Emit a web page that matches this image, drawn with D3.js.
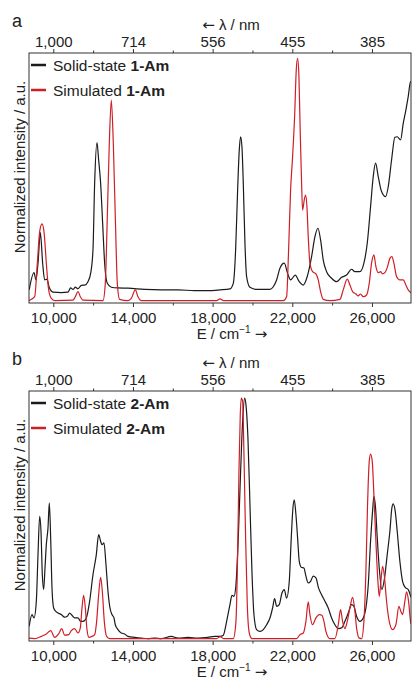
<!DOCTYPE html>
<html lang="en">
<head>
<meta charset="utf-8">
<script src="https://cdn.jsdelivr.net/npm/d3@7"></script>
<style>
  body { margin: 0; background: #fff; }
  svg { display: block; font-family: "Liberation Sans", Arial, sans-serif; }
</style>
</head>
<body>
<script>
// tick positions in cm-1 and the matching wavelength labels (nm)
var majorE = [10000, 14000, 18000, 22000, 26000];
var minorE = [12000, 16000, 20000, 24000];
var lambdaLabels = ["1,000", "714", "556", "455", "385"];

// spectra: [E / cm-1, normalized intensity]
var solid1Am = [[8790,0.044],[9031,0.115],[9132,0.085],[9232,0.154],[9349,0.280],[9466,0.154],[9567,0.085],
  [9684,0.088],[9784,0.057],[9985,0.035],[10403,0.033],[10738,0.035],[10871,0.052],[10989,0.046],[11106,0.055],
  [11240,0.049],[11407,0.063],[11574,0.064],[11741,0.078],[11875,0.112],[11992,0.208],[12076,0.483],[12193,0.651],
  [12277,0.579],[12377,0.483],[12478,0.318],[12578,0.154],[12712,0.071],[12913,0.055],[13247,0.052],[13749,0.051],
  [14586,0.046],[15422,0.044],[16259,0.044],[17095,0.041],[17764,0.041],[18368,0.044],[18870,0.048],[19037,0.071],
  [19154,0.208],[19255,0.456],[19338,0.621],[19405,0.675],[19472,0.634],[19539,0.483],[19623,0.236],[19706,0.099],
  [19874,0.055],[20208,0.046],[20878,0.046],[21045,0.057],[21212,0.085],[21379,0.133],[21597,0.154],[21764,0.112],
  [21915,0.085],[22149,0.105],[22350,0.078],[22551,0.064],[22751,0.099],[22969,0.181],[23136,0.263],[23287,0.298],
  [23420,0.250],[23554,0.167],[23722,0.119],[23973,0.092],[24224,0.078],[24474,0.096],[24725,0.105],[24976,0.129],
  [25144,0.119],[25395,0.119],[25595,0.154],[25763,0.236],[25930,0.387],[26064,0.511],[26181,0.566],[26315,0.511],
  [26482,0.449],[26683,0.428],[26817,0.469],[26984,0.579],[27151,0.673],[27268,0.675],[27436,0.662],[27570,0.730],
  [27703,0.785],[27820,0.840],[27937,0.902],[27960,0.902]];

var sim1Am = [[8780,0],[9065,0.016],[9198,0.154],[9316,0.284],[9433,0.316],[9533,0.284],[9650,0.154],[9767,0.044],
  [9901,0.009],[10068,0],[10989,0.002],[11106,0.016],[11240,0.037],[11357,0.016],[11490,0.002],[12494,0],
  [12611,0.071],[12712,0.346],[12812,0.648],[12913,0.826],[13013,0.648],[13113,0.346],[13214,0.071],[13331,0.005],
  [13749,0],[13916,0.009],[14117,0.044],[14251,0.016],[14418,0],[18200,0],[18370,0.007],[18550,0],[21547,0],
  [21714,0.016],[21814,0.208],[21915,0.456],[22015,0.593],[22116,0.758],[22199,0.950],[22266,0.998],[22333,0.923],
  [22400,0.689],[22467,0.483],[22517,0.373],[22601,0.415],[22668,0.435],[22735,0.387],[22801,0.263],[22885,0.154],
  [23019,0.119],[23186,0.110],[23303,0.085],[23420,0.037],[23554,0.005],[23889,0],[24391,0.005],[24558,0.044],
  [24759,0.088],[24893,0.064],[25027,0.037],[25194,0.027],[25311,0.019],[25428,0.027],[25562,0.016],[25729,0.023],
  [25863,0.071],[25980,0.154],[26097,0.188],[26198,0.140],[26315,0.115],[26432,0.119],[26532,0.110],[26649,0.115],
  [26783,0.140],[26900,0.174],[27000,0.181],[27101,0.154],[27235,0.099],[27402,0.085],[27570,0.085],[27703,0.064],
  [27820,0.044],[27960,0.032]];

var solid2Am = [[8790,0.051],[8931,0.099],[9031,0.085],[9148,0.154],[9232,0.346],[9316,0.504],[9382,0.442],[9449,0.263],
  [9516,0.202],[9583,0.291],[9650,0.387],[9734,0.456],[9801,0.559],[9868,0.415],[9935,0.208],[10018,0.126],
  [10152,0.110],[10403,0.099],[10570,0.088],[10704,0.092],[10821,0.105],[10938,0.096],[11072,0.085],[11240,0.085],
  [11373,0.071],[11490,0.071],[11658,0.085],[11825,0.154],[11992,0.263],[12160,0.346],[12277,0.428],[12377,0.401],
  [12444,0.387],[12544,0.394],[12645,0.305],[12745,0.195],[12846,0.126],[12946,0.099],[13046,0.085],[13113,0.057],
  [13247,0.037],[13414,0.023],[13582,0.019],[13749,0.009],[14084,0.005],[14418,0.002],[14753,0],[15087,0.002],
  [15422,0],[15924,0.009],[16259,0.002],[16760,0.005],[17262,0.002],[17764,0.005],[18099,0.009],[18368,0.009],
  [18535,0.014],[18703,0.071],[18870,0.140],[18970,0.178],[19071,0.174],[19171,0.222],[19288,0.415],[19405,0.689],
  [19506,0.895],[19606,0.991],[19673,0.964],[19773,0.826],[19874,0.552],[19974,0.277],[20074,0.099],[20208,0.037],
  [20376,0.030],[20543,0.037],[20710,0.057],[20878,0.085],[21011,0.126],[21112,0.165],[21212,0.133],[21346,0.140],
  [21480,0.188],[21597,0.202],[21714,0.167],[21848,0.236],[21948,0.415],[22032,0.538],[22099,0.572],[22182,0.511],
  [22266,0.415],[22350,0.318],[22450,0.294],[22584,0.291],[22684,0.257],[22801,0.229],[22919,0.236],[23052,0.257],
  [23186,0.250],[23320,0.208],[23471,0.181],[23638,0.154],[23805,0.126],[23973,0.085],[24140,0.057],[24307,0.041],
  [24474,0.044],[24642,0.071],[24809,0.105],[24976,0.140],[25093,0.133],[25227,0.092],[25395,0.071],[25562,0.085],
  [25696,0.126],[25813,0.222],[25930,0.401],[26030,0.524],[26097,0.586],[26181,0.538],[26265,0.415],[26365,0.291],
  [26499,0.202],[26633,0.250],[26766,0.346],[26900,0.442],[27000,0.538],[27067,0.555],[27168,0.524],[27268,0.442],
  [27402,0.318],[27536,0.236],[27670,0.211],[27820,0.202],[27960,0.170]];

var sim2Am = [[8780,0.002],[9065,0],[9399,0.009],[9650,0.019],[9868,0.033],[10068,0.005],[10269,0.019],[10420,0.041],
  [10570,0.014],[10771,0.016],[10905,0.033],[11072,0.041],[11240,0.023],[11357,0.044],[11440,0.126],[11524,0.178],
  [11608,0.126],[11691,0.037],[11792,0.005],[11942,0.009],[12076,0.016],[12176,0.071],[12277,0.181],[12377,0.252],
  [12461,0.195],[12561,0.071],[12678,0.009],[12829,0],[18200,0],[18380,0.008],[18550,0],[19037,0],[19171,0.071],
  [19255,0.346],[19322,0.689],[19388,0.923],[19439,0.991],[19506,0.978],[19573,0.758],[19656,0.415],[19740,0.140],
  [19840,0.023],[19974,0],[22216,0],[22383,0.016],[22551,0.023],[22684,0.071],[22801,0.151],[22885,0.099],
  [23019,0.057],[23186,0.085],[23354,0.099],[23487,0.096],[23588,0.071],[23688,0.030],[23889,0],[24140,0],
  [24307,0.057],[24424,0.119],[24525,0.071],[24642,0.041],[24759,0.071],[24893,0.126],[25027,0.170],[25127,0.126],
  [25227,0.044],[25361,0.002],[25478,0],[25595,0.071],[25696,0.277],[25779,0.552],[25863,0.730],[25930,0.760],
  [26014,0.730],[26097,0.593],[26198,0.401],[26298,0.236],[26365,0.174],[26449,0.236],[26532,0.298],[26616,0.263],
  [26733,0.154],[26867,0.071],[27034,0.037],[27201,0.057],[27352,0.133],[27452,0.112],[27536,0.099],[27653,0.154],
  [27737,0.192],[27837,0.154],[27937,0.071],[27960,0.060]];

var panels = [
  {tag: "a", name: "1-Am", solid: solid1Am, sim: sim1Am},
  {tag: "b", name: "2-Am", solid: solid2Am, sim: sim2Am}
];

var W = 412, H = 677;
var margin = {left: 29, top: 53},
    width = 382, height = 250, step = 338;
var black = "#1b1b1b", red = "#cf1f26";
var arrowFont = "DejaVu Sans, sans-serif";

var svg = d3.select("body").append("svg").attr("width", W).attr("height", H);

var x = d3.scaleLinear().domain([8780, 27960]).range([0, width]);
var y = d3.scaleLinear().domain([-0.01, 1.02]).range([height, 0]);

var line = d3.line()
  .x(function(d){ return x(d[0]); })
  .y(function(d){ return y(d[1]); })
  .curve(d3.curveMonotoneX);

svg.append("defs").append("clipPath").attr("id", "plotclip")
  .append("rect").attr("width", width).attr("height", height);

panels.forEach(function(p, k){
  var g = svg.append("g")
    .attr("transform", "translate(" + margin.left + "," + (margin.top + k * step) + ")");

  // spectra
  var plot = g.append("g").attr("clip-path", "url(#plotclip)");
  plot.append("path").datum(p.solid)
    .attr("d", line).attr("fill", "none").attr("stroke", black).attr("stroke-width", 1.2);
  plot.append("path").datum(p.sim)
    .attr("d", line).attr("fill", "none").attr("stroke", red).attr("stroke-width", 1.2);

  // bottom axis (energy)
  g.append("g").attr("transform", "translate(0," + height + ")")
    .call(d3.axisBottom(x).tickValues(majorE).tickSize(4).tickPadding(5).tickFormat(d3.format(",")));
  g.append("g").attr("transform", "translate(0," + height + ")")
    .call(d3.axisBottom(x).tickValues(minorE).tickSize(2.5).tickFormat(""));

  // top axis (wavelength)
  g.append("g")
    .call(d3.axisTop(x).tickValues(majorE).tickSize(4).tickPadding(2)
      .tickFormat(function(d, i){ return lambdaLabels[i]; }));
  g.append("g")
    .call(d3.axisTop(x).tickValues(minorE).tickSize(2.5).tickFormat(""));

  g.selectAll(".domain").remove();
  g.selectAll(".tick line").attr("stroke", "#333");
  g.selectAll(".tick text").attr("font-size", 15).attr("fill", "#222")
    .attr("font-family", "Liberation Sans, Arial, sans-serif");

  // frame
  g.append("rect").attr("width", width).attr("height", height)
    .attr("fill", "none").attr("stroke", "#333").attr("stroke-width", 1);

  // axis titles
  var xt = g.append("text").attr("x", 203).attr("y", height + 36)
    .attr("text-anchor", "middle").attr("font-size", 15).attr("fill", "#222");
  xt.append("tspan").text("E / cm");
  xt.append("tspan").attr("font-size", 10).attr("dy", -6).text("\u22121");
  xt.append("tspan").attr("dy", 6).text(" ");
  xt.append("tspan").attr("font-family", arrowFont).text("\u2192");

  var lt = g.append("text").attr("x", 202).attr("y", -23)
    .attr("text-anchor", "middle").attr("font-size", 15).attr("fill", "#222");
  lt.append("tspan").attr("font-family", arrowFont).text("\u2190");
  lt.append("tspan").text(" \u03bb / nm");

  g.append("text").attr("transform", "translate(-4," + (height / 2 - 11) + ") rotate(-90)")
    .attr("text-anchor", "middle").attr("font-size", 15).attr("fill", "#222")
    .text("Normalized intensity / a.u.");

  g.append("text").attr("x", -17).attr("y", -26)
    .attr("font-size", 18).attr("fill", "#222").text(p.tag);

  // legend
  var leg = g.append("g").attr("transform", "translate(2,12)");
  [{c: black, t: "Solid-state "}, {c: red, t: "Simulated "}].forEach(function(e, i){
    leg.append("line").attr("x1", 0).attr("x2", 15).attr("y1", i * 25).attr("y2", i * 25)
      .attr("stroke", e.c).attr("stroke-width", 2.5);
    var t = leg.append("text").attr("x", 22).attr("y", i * 25 + 5.5)
      .attr("font-size", 15.5).attr("fill", "#222");
    t.append("tspan").text(e.t);
    t.append("tspan").attr("font-weight", "bold").text(p.name);
  });
});
</script>
</body>
</html>
